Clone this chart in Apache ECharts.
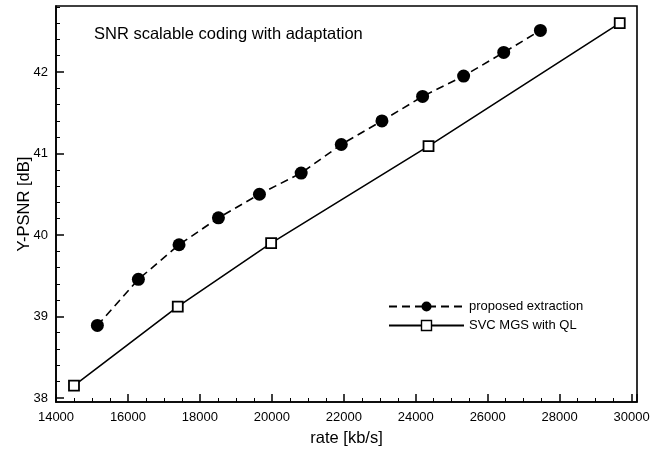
<!DOCTYPE html>
<html>
<head>
<meta charset="utf-8">
<script src="https://cdn.jsdelivr.net/npm/echarts@6/dist/echarts.min.js"></script>
<style>
html,body{margin:0;padding:0;background:#fff;}
#c{width:659px;height:450px;}
</style>
</head>
<body>
<div id="c"></div>
<script>
// ---- data ----
const proposedRate = [15150, 16290, 17420, 18515, 19655, 20815, 21930, 23060, 24190, 25330, 26445, 27465];
const proposedPsnr = [38.89, 39.455, 39.88, 40.21, 40.50, 40.76, 41.11, 41.40, 41.70, 41.95, 42.24, 42.51];
const svcRate = [14500, 17385, 19980, 24355, 29670];
const svcPsnr = [38.15, 39.12, 39.90, 41.09, 42.60];
const yMajorTicks = [38, 39, 40, 41, 42];
const yMinorTicks = [38.2, 38.4, 38.6, 38.8, 39.2, 39.4, 39.6, 39.8, 40.2, 40.4, 40.6, 40.8, 41.2, 41.4, 41.6, 41.8, 42.2, 42.4, 42.6, 42.8];
const seriesNames = ['proposed extraction', 'SVC MGS with QL'];
const titleText = 'SNR scalable coding with adaptation';

const FONT = '"Liberation Sans", Arial, Helvetica, sans-serif';
const chart = echarts.init(document.getElementById('c'), null, {renderer: 'canvas'});

const zip = (a, b) => a.map((v, i) => [v, b[i]]);

chart.setOption({
  animation: false,
  backgroundColor: '#fff',
  textStyle: {fontFamily: FONT, color: '#000'},
  title: {
    text: titleText,
    left: 89, top: 21,
    textStyle: {fontFamily: FONT, fontSize: 16.5, fontWeight: 'normal', color: '#000'}
  },
  grid: {
    left: 56, right: 22, top: 6, bottom: 48,
    outerBoundsMode: 'none', containLabel: false,
    show: true, borderColor: '#000', borderWidth: 1.6, backgroundColor: 'transparent'
  },
  legend: {
    orient: 'vertical',
    left: 383, top: 295,
    itemWidth: 75, itemHeight: 12.5, itemGap: 6,
    textStyle: {fontFamily: FONT, fontSize: 13, color: '#000'},
    data: [
      {name: seriesNames[0]},
      {name: seriesNames[1], itemStyle: {borderWidth: 1.4}}
    ]
  },
  xAxis: [{
    type: 'value',
    min: 14000, max: 30150, interval: 2000,
    name: 'rate [kb/s]', nameLocation: 'middle', nameGap: 28, nameMoveOverlap: false,
    nameTextStyle: {fontFamily: FONT, fontSize: 16.5, color: '#000'},
    axisLine: {show: true, lineStyle: {color: '#000', width: 1.6}},
    axisTick: {show: true, inside: true, length: 8, lineStyle: {color: '#000', width: 1.5}},
    minorTick: {show: true, splitNumber: 4, length: 4, lineStyle: {color: '#000', width: 1}},
    axisLabel: {fontFamily: FONT, fontSize: 13, color: '#000', margin: 9, showMaxLabel: false,
      formatter: v => (v % 2000 === 0 ? String(v) : '')},
    splitLine: {show: false}
  }],
  yAxis: [{
    type: 'value',
    min: 37.95, max: 42.81,
    name: 'Y-PSNR [dB]', nameLocation: 'middle', nameGap: 23, nameMoveOverlap: false,
    nameTextStyle: {fontFamily: FONT, fontSize: 16.5, color: '#000'},
    axisLine: {show: true, lineStyle: {color: '#000', width: 1.6}},
    axisTick: {show: true, inside: true, length: 8, customValues: yMajorTicks, lineStyle: {color: '#000', width: 1.5}},
    axisLabel: {fontFamily: FONT, fontSize: 13, color: '#000', margin: 8, customValues: yMajorTicks,
      formatter: v => String(Math.round(v))},
    splitLine: {show: false}
  }, {
    type: 'value',
    min: 37.95, max: 42.81,
    position: 'left',
    axisLine: {show: false},
    axisTick: {show: true, inside: true, length: 4, customValues: yMinorTicks, lineStyle: {color: '#000', width: 1}},
    axisLabel: {show: false},
    splitLine: {show: false}
  }],
  series: [{
    name: seriesNames[0],
    type: 'line',
    data: zip(proposedRate, proposedPsnr),
    symbol: 'circle', symbolSize: 13,
    itemStyle: {color: '#000', borderColor: '#000', borderWidth: 0},
    lineStyle: {color: '#000', width: 1.6, type: [8, 5]},
    z: 3
  }, {
    name: seriesNames[1],
    type: 'line',
    data: zip(svcRate, svcPsnr),
    symbol: 'rect', symbolSize: 10,
    itemStyle: {color: '#fff', borderColor: '#000', borderWidth: 1.8},
    lineStyle: {color: '#000', width: 1.6, type: 'solid'},
    z: 2
  }]
});
</script>
</body>
</html>
